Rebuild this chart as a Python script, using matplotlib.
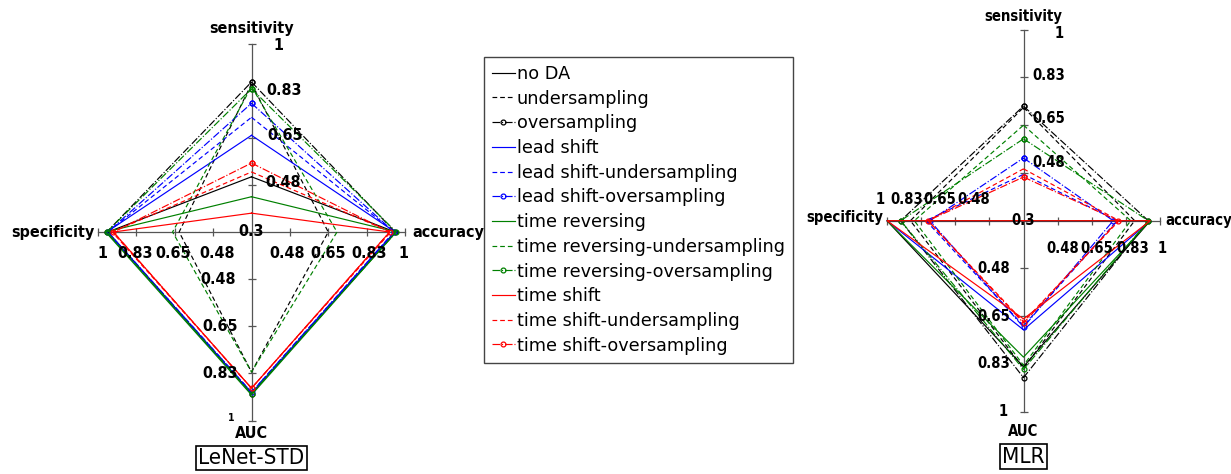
import matplotlib
matplotlib.use("Agg")
import matplotlib.pyplot as plt

# axes of the spider plots: top, right, bottom, left
axis_names = ["sensitivity", "accuracy", "AUC", "specificity"]
tick_values = [0.475, 0.65, 0.825, 1.0]
tick_labels = ["0.48", "0.65", "0.83", "1"]
center_label = "0.3"
r_min, r_max = 0.3, 1.0

series_names = [
    "no DA", "undersampling", "oversampling",
    "lead shift", "lead shift-undersampling", "lead shift-oversampling",
    "time reversing", "time reversing-undersampling", "time reversing-oversampling",
    "time shift", "time shift-undersampling", "time shift-oversampling",
]
series_colors = ["black"] * 3 + ["blue"] * 3 + ["green"] * 3 + ["red"] * 3
series_styles = ["-", (0, (4, 2.5)), "-."] * 4
series_markers = ["", "", "o"] * 4

# values per series: sensitivity, accuracy, AUC, specificity
lenet_values = [
    [0.505, 0.955, 0.900, 0.955],
    [0.850, 0.650, 0.820, 0.630],
    [0.857, 0.955, 0.900, 0.960],
    [0.659, 0.955, 0.900, 0.960],
    [0.726, 0.950, 0.895, 0.955],
    [0.778, 0.950, 0.895, 0.955],
    [0.431, 0.960, 0.905, 0.965],
    [0.840, 0.690, 0.820, 0.660],
    [0.832, 0.960, 0.900, 0.960],
    [0.370, 0.930, 0.880, 0.930],
    [0.523, 0.935, 0.880, 0.935],
    [0.556, 0.930, 0.880, 0.930],
]
mlr_values = [
    [0.300, 0.950, 0.835, 1.000],
    [0.715, 0.870, 0.840, 0.880],
    [0.720, 0.940, 0.875, 0.930],
    [0.300, 0.950, 0.700, 1.000],
    [0.470, 0.780, 0.685, 0.800],
    [0.530, 0.760, 0.690, 0.780],
    [0.300, 0.950, 0.800, 1.000],
    [0.650, 0.850, 0.830, 0.860],
    [0.600, 0.940, 0.845, 0.930],
    [0.300, 0.950, 0.660, 1.000],
    [0.490, 0.790, 0.670, 0.790],
    [0.460, 0.785, 0.675, 0.790],
]

directions = [(0, 1), (1, 0), (0, -1), (-1, 0)]
PX = 0.72  # points per pixel at dpi 100


def radius(v):
    return (v - r_min) / (r_max - r_min)


def draw_spider(ax, values, title, fs, lay):
    ax.set_xlim(-1, 1)
    ax.set_ylim(-1, 1)
    ax.axis("off")
    # axes lines and ticks
    ax.plot([-1, 1], [0, 0], color="#555555", lw=0.9, clip_on=False, zorder=1)
    ax.plot([0, 0], [-1, 1], color="#555555", lw=0.9, clip_on=False, zorder=1)
    tr = [radius(t) for t in tick_values]
    ax.plot(tr + [-r for r in tr], [0] * 8, ls="none", marker="|", ms=5.5,
            mew=0.9, color="#555555", clip_on=False, zorder=1)
    ax.plot([0] * 8, tr + [-r for r in tr], ls="none", marker="_", ms=5.5,
            mew=0.9, color="#555555", clip_on=False, zorder=1)

    handles = []
    for vals, name, col, ls, mk in zip(values, series_names, series_colors,
                                       series_styles, series_markers):
        xs = [d[0] * radius(v) for d, v in zip(directions, vals)]
        ys = [d[1] * radius(v) for d, v in zip(directions, vals)]
        h, = ax.plot(xs + xs[:1], ys + ys[:1], color=col, ls=ls, lw=0.85,
                     marker=mk, ms=3.5, mfc="none", mew=0.9, label=name,
                     clip_on=False, zorder=2)
        handles.append(h)

    bold = dict(fontsize=fs, fontweight="bold", fontstretch="condensed", zorder=3)
    # tick labels along each axis, one pixel offset per tick
    for (dx, dy), (offsets, ha, va) in zip(directions, lay["ticks"]):
        for t, lab, (ox, oy) in zip(tick_values, tick_labels, offsets):
            r = radius(t)
            size = fs
            if lab == "1" and (dx, dy) == (0, -1):
                size = fs * lay["small_one"]
            ax.annotate(lab, (dx * r, dy * r), xytext=(ox * PX, -oy * PX),
                        textcoords="offset points", ha=ha, va=va,
                        **{**bold, "fontsize": size})
    ax.annotate(center_label, (0, 0), xytext=(0, 0), textcoords="offset points",
                ha="center", va="center", **bold)
    # axis names
    for (dx, dy), name, (ox, oy, ha, va) in zip(directions, axis_names, lay["names"]):
        ax.annotate(name, (dx, dy), xytext=(ox * PX, -oy * PX),
                    textcoords="offset points", ha=ha, va=va, **bold)
    ax.annotate(title, (0, -1), xytext=(0, -lay["title_dy"] * PX),
                textcoords="offset points", ha="center", va="center",
                fontsize=16, fontstretch="condensed",
                bbox=dict(boxstyle="square,pad=0.1", fc="white", ec="black", lw=1.2))
    return handles


fig = plt.figure(figsize=(12.31, 4.74), dpi=100)

# left chart: centre (251.5, 232) px, radii 153.5 x 188.5 px
ax1 = fig.add_axes([98 / 1231, (474 - 420.5) / 474, 307 / 1231, 377 / 474])
lay1 = {
    "ticks": [([(14, -2), (16, -2), (15, 0), (22, 1.5)], "left", "center"),
              ([(-3, 21), (0, 21), (3, 21), (-2, 21)], "center", "center"),
              ([(-16, 0), (-14, 0), (-14, 0), (-17, -2.5)], "right", "center"),
              ([(4, 21), (-2, 21), (-1, 21), (4, 21)], "center", "center")],
    "names": [(0, -14.5, "center", "center"), (7, 0, "left", "center"),
              (0, 12.5, "center", "center"), (-3, 0, "right", "center")],
    "title_dy": 37.5,
    "small_one": 0.65,
}
handles = draw_spider(ax1, lenet_values, "LeNet-STD", 11.5, lay1)

# right chart: centre (1023.5, 220.7) px, radii 136.5 x 191 px
ax2 = fig.add_axes([887 / 1231, (474 - 411.7) / 474, 273 / 1231, 382 / 474])
lay2 = {
    "ticks": [([(25, -10), (25, -7), (25, -1.5), (36, 3.5)], "center", "center"),
              ([(5, 28), (5, 28), (7, 28), (2, 28)], "center", "center"),
              ([(-13.5, 0), (-13.5, 0), (-13.5, 0), (-16, 0)], "right", "center"),
              ([(-16, -21), (-15, -21), (-14, -21), (-7, -21)], "center", "center")],
    "names": [(0, -12.7, "center", "center"), (5, 0, "left", "center"),
              (0, 20, "center", "center"), (-4, -2.7, "right", "center")],
    "title_dy": 45,
    "small_one": 1.0,
}
draw_spider(ax2, mlr_values, "MLR", 10.6, lay2)

fig.legend(handles=handles, loc="upper left", bbox_to_anchor=(484 / 1231, 1 - 57 / 474),
           borderaxespad=0, fontsize=12.7, frameon=True, fancybox=False,
           edgecolor="#444444", framealpha=1, handlelength=1.3, handletextpad=0.1,
           labelspacing=0.38, borderpad=0.45, numpoints=1)

fig.savefig("out.png", dpi=100)
